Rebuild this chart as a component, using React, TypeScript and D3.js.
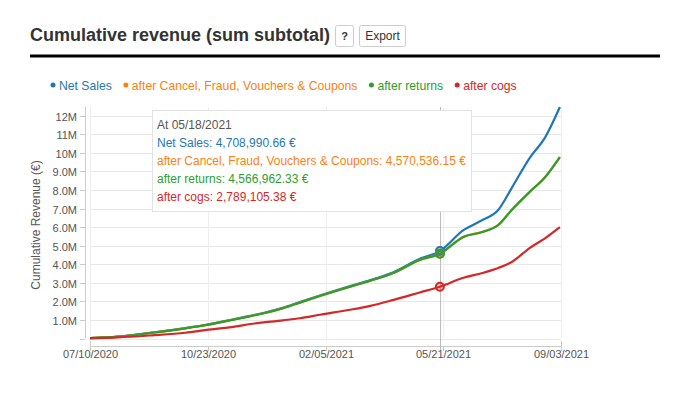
import React, { useEffect, useRef } from 'react';
import * as d3 from 'd3';

const dates = [
  '2020-07-10', '2020-08-04', '2020-09-03', '2020-10-03', '2020-10-22', '2020-11-16',
  '2020-11-30', '2020-12-29', '2021-01-13', '2021-01-31', '2021-02-27', '2021-03-17',
  '2021-04-06', '2021-04-30', '2021-05-18', '2021-06-08', '2021-06-25', '2021-07-09',
  '2021-07-21', '2021-08-06', '2021-08-20', '2021-09-02',
];

// values in millions of euros
const netSales = [0.02, 0.10, 0.32, 0.56, 0.74, 1.05, 1.22, 1.65, 1.96, 2.32, 2.83, 3.15, 3.56, 4.30, 4.709, 5.84, 6.38, 6.92, 8.10, 9.72, 10.85, 12.47];
const afterCancel = [0.02, 0.10, 0.31, 0.55, 0.73, 1.03, 1.20, 1.63, 1.93, 2.29, 2.79, 3.11, 3.51, 4.23, 4.5705, 5.475, 5.745, 6.115, 6.925, 7.895, 8.705, 9.775];
const afterReturns = [0.02, 0.10, 0.31, 0.55, 0.73, 1.03, 1.20, 1.63, 1.93, 2.29, 2.79, 3.11, 3.51, 4.23, 4.567, 5.47, 5.74, 6.11, 6.92, 7.89, 8.70, 9.77];
const afterCogs = [0.02, 0.06, 0.17, 0.31, 0.46, 0.64, 0.78, 0.98, 1.09, 1.28, 1.55, 1.76, 2.07, 2.48, 2.789, 3.27, 3.53, 3.80, 4.12, 4.87, 5.41, 6.0];

const seriesNames = ['Net Sales', 'after Cancel, Fraud, Vouchers & Coupons', 'after returns', 'after cogs'];
const seriesColors = ['#1f77b4', '#ff7f0e', '#2ca02c', '#d62728'];
const seriesValues = [netSales, afterCancel, afterReturns, afterCogs];

const xTicks = ['2020-07-10', '2020-10-23', '2021-02-05', '2021-05-21', '2021-09-03'];
const yTicks = [0, 1, 2, 3, 4, 5, 6, 7, 8, 9, 10, 11, 12];

const hoverDate = '2021-05-18';
const hoverValues = ['4,708,990.66 €', '4,570,536.15 €', '4,566,962.33 €', '2,789,105.38 €'];

const FONT = '"Liberation Sans", Arial, sans-serif';

const App: React.FC = () => {
  const svgRef = useRef<SVGSVGElement>(null);

  useEffect(() => {
    if (!svgRef.current) return;
    const svg = d3.select(svgRef.current);
    svg.selectAll('*').remove();
    svg.style('font-family', FONT);

    const parse = d3.timeParse('%Y-%m-%d');
    const fmt = d3.timeFormat('%m/%d/%Y');

    const x = d3.scaleTime()
      .domain([parse(xTicks[0])!, parse(xTicks[xTicks.length - 1])!])
      .range([90, 561]);
    const y = d3.scaleLinear()
      .domain([0, d3.max(netSales)! * 1e6])
      .range([338.5, 107]);

    // header
    svg.append('text')
      .attr('x', 30).attr('y', 41)
      .attr('font-size', 18).attr('font-weight', 'bold').attr('fill', '#333')
      .text('Cumulative revenue (sum subtotal)');
    svg.append('rect').attr('x', 335.5).attr('y', 25.5).attr('width', 18).attr('height', 21)
      .attr('rx', 2).attr('fill', '#fff').attr('stroke', '#ccc');
    svg.append('text').attr('x', 344.5).attr('y', 40).attr('text-anchor', 'middle')
      .attr('font-size', 11).attr('font-weight', 'bold').attr('fill', '#333').text('?');
    svg.append('rect').attr('x', 359.5).attr('y', 25.5).attr('width', 46).attr('height', 21)
      .attr('rx', 2).attr('fill', '#fff').attr('stroke', '#ccc');
    svg.append('text').attr('x', 382.5).attr('y', 40).attr('text-anchor', 'middle')
      .attr('font-size', 12).attr('fill', '#333').text('Export');
    svg.append('rect').attr('x', 30).attr('y', 54.5).attr('width', 630).attr('height', 3).attr('fill', '#000');

    // legend
    let lx = 53;
    seriesNames.forEach((name, i) => {
      svg.append('circle').attr('cx', lx).attr('cy', 85).attr('r', 2.5).attr('fill', seriesColors[i]);
      const t = svg.append('text').attr('x', lx + 6).attr('y', 89.5)
        .attr('font-size', 12.2).attr('fill', seriesColors[i]).text(name);
      const w = (t.node() as SVGTextElement).getComputedTextLength();
      lx += 6 + w + 14;
    });

    // grid
    const grid = svg.append('g');
    grid.selectAll('line.h').data(yTicks).join('line')
      .attr('x1', 90).attr('x2', 561)
      .attr('y1', d => Math.round(y(d * 1e6)) + 0.5).attr('y2', d => Math.round(y(d * 1e6)) + 0.5)
      .attr('stroke', '#e8e8e8');
    grid.selectAll('line.v').data(xTicks).join('line')
      .attr('x1', d => Math.round(x(parse(d)!)) + 0.5).attr('x2', d => Math.round(x(parse(d)!)) + 0.5)
      .attr('y1', 107).attr('y2', 338.5)
      .attr('stroke', '#eee');

    // y axis
    const yAxis = svg.append('g');
    yAxis.append('line').attr('x1', 85.5).attr('x2', 85.5).attr('y1', 107).attr('y2', 338.5).attr('stroke', '#ccc');
    yTicks.forEach(t => {
      const yy = Math.round(y(t * 1e6)) + 0.5;
      yAxis.append('line').attr('x1', 80).attr('x2', 85).attr('y1', yy).attr('y2', yy).attr('stroke', '#ccc');
      if (t > 0) {
        yAxis.append('text').attr('x', 77).attr('y', yy + 4).attr('text-anchor', 'end')
          .attr('font-size', 11).attr('fill', '#555').text(d3.format('.2s')(t * 1e6));
      }
    });
    svg.append('text')
      .attr('transform', 'translate(40,225) rotate(-90)')
      .attr('text-anchor', 'middle').attr('font-size', 12).attr('fill', '#555')
      .text('Cumulative Revenue (€)');

    // x axis
    const xAxis = svg.append('g');
    xAxis.append('line').attr('x1', 90).attr('x2', 561).attr('y1', 346.5).attr('y2', 346.5).attr('stroke', '#ccc');
    xTicks.forEach((d, i) => {
      const xx = Math.round(x(parse(d)!)) + 0.5;
      const top = i === 0 || i === xTicks.length - 1 ? 341 : 346;
      xAxis.append('line').attr('x1', xx).attr('x2', xx).attr('y1', top).attr('y2', 351).attr('stroke', '#ccc');
      xAxis.append('text').attr('x', xx).attr('y', 358).attr('text-anchor', 'middle')
        .attr('font-size', 11).attr('fill', '#555').text(fmt(parse(d)!));
    });

    // hover line
    const hx = Math.round(x(parse(hoverDate)!)) + 0.5;
    svg.append('line').attr('x1', hx).attr('x2', hx).attr('y1', 107).attr('y2', 350)
      .attr('stroke', '#bbb');

    // series
    const line = d3.line<number>()
      .x((_, i) => x(parse(dates[i])!))
      .y(v => y(v * 1e6))
      .curve(d3.curveMonotoneX);
    seriesValues.forEach((vals, i) => {
      svg.append('path').attr('d', line(vals)!)
        .attr('fill', 'none').attr('stroke', seriesColors[i]).attr('stroke-width', 2.2);
    });

    const hi = dates.indexOf(hoverDate);
    seriesValues.forEach((vals, i) => {
      svg.append('circle').attr('cx', x(parse(hoverDate)!)).attr('cy', y(vals[hi] * 1e6)).attr('r', 4)
        .attr('fill', seriesColors[i]).attr('fill-opacity', 0.25)
        .attr('stroke', seriesColors[i]).attr('stroke-width', 2);
    });

    // tooltip
    const tip = svg.append('g');
    tip.append('rect').attr('x', 152.5).attr('y', 110.5).attr('width', 319).attr('height', 101)
      .attr('fill', '#fff').attr('stroke', '#e3e3e3');
    tip.append('text').attr('x', 157).attr('y', 129).attr('font-size', 12).attr('fill', '#555')
      .text('At ' + fmt(parse(hoverDate)!));
    seriesNames.forEach((name, i) => {
      tip.append('text').attr('x', 157).attr('y', 147 + i * 18).attr('font-size', 12)
        .attr('fill', seriesColors[i]).text(`${name}: ${hoverValues[i]}`);
    });
  }, []);

  return (
    <div style={{ position: 'absolute', left: 0, top: 0, width: 690, height: 394, background: '#fff' }}>
      <svg ref={svgRef} width={690} height={394}></svg>
    </div>
  );
};

export default App;
